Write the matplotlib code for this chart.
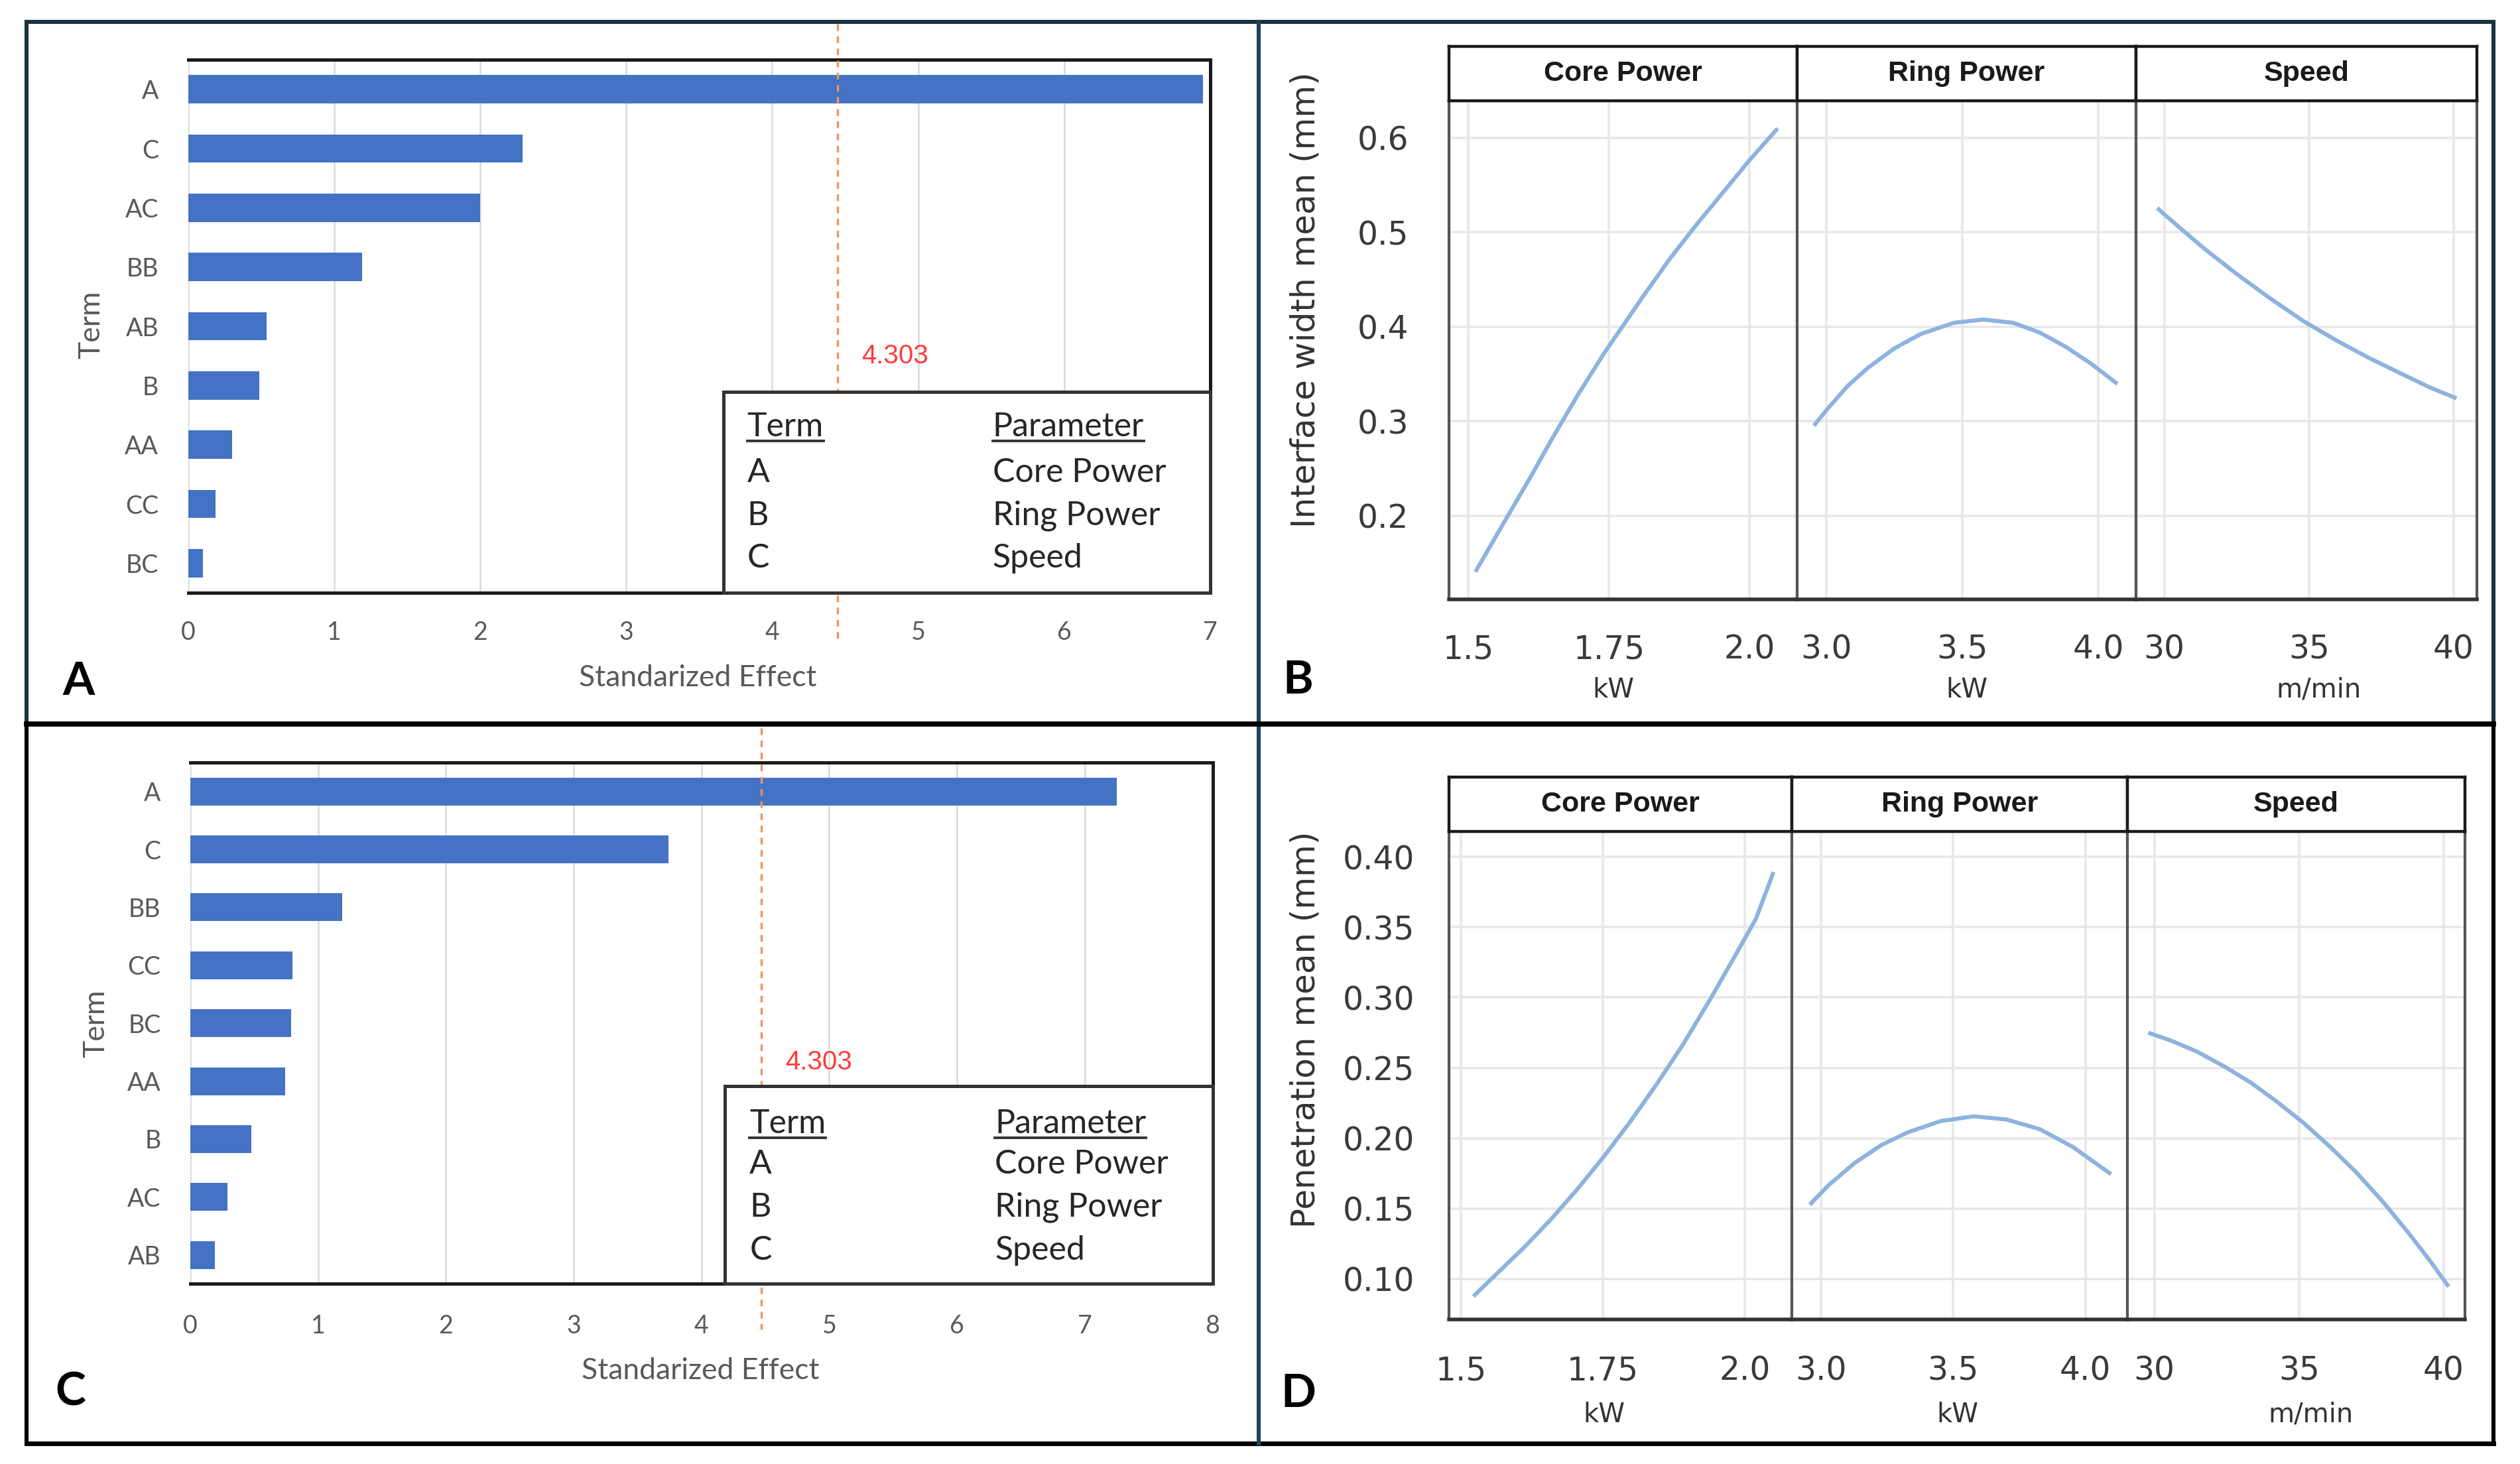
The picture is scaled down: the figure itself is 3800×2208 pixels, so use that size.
import matplotlib
matplotlib.use('Agg')
import matplotlib.pyplot as plt
from matplotlib.patches import Rectangle
from matplotlib.lines import Line2D
import matplotlib.transforms as mtransforms

plt.rcParams['font.family'] = ['Lato', 'DejaVu Sans']

# ------------------------------------------------------------------ data
terms_A = ['A', 'C', 'AC', 'BB', 'AB', 'B', 'AA', 'CC', 'BC']
effects_A = [6.95, 2.29, 2.00, 1.19, 0.54, 0.49, 0.30, 0.19, 0.10]
terms_C = ['A', 'C', 'BB', 'CC', 'BC', 'AA', 'B', 'AC', 'AB']
effects_C = [7.25, 3.74, 1.19, 0.80, 0.79, 0.74, 0.48, 0.29, 0.19]
crit_label = '4.303'
crit_line_A = 4.45
crit_line_C = 4.47
legend_terms = ['A', 'B', 'C']
legend_params = ['Core Power', 'Ring Power', 'Speed']

factors = ['Core Power', 'Ring Power', 'Speed']
units = ['kW', 'kW', 'm/min']
xticks_f = [[1.5, 1.75, 2.0], [3.0, 3.5, 4.0], [30, 35, 40]]
xticklabels_f = [['1.5', '1.75', '2.0'], ['3.0', '3.5', '4.0'], ['30', '35', '40']]

yticks_B = [0.2, 0.3, 0.4, 0.5, 0.6]
yticklabels_B = ['0.2', '0.3', '0.4', '0.5', '0.6']
yticks_D = [0.10, 0.15, 0.20, 0.25, 0.30, 0.35, 0.40]
yticklabels_D = ['0.10', '0.15', '0.20', '0.25', '0.30', '0.35', '0.40']

core_B_x = [1.5125, 1.5653, 1.6122, 1.6474, 1.6943, 1.7412, 1.7765, 1.8116, 1.8585, 1.9054, 1.9524, 1.9993, 2.0498]
core_B_y = [0.1406, 0.1950, 0.2427, 0.2801, 0.3276, 0.3719, 0.4025, 0.4331, 0.4723, 0.5080, 0.5420, 0.5760, 0.6100]
ring_B_x = [2.953, 3.006, 3.079, 3.152, 3.249, 3.346, 3.468, 3.577, 3.687, 3.784, 3.881, 3.978, 4.070]
ring_B_y = [0.2954, 0.3141, 0.3379, 0.3566, 0.3771, 0.3923, 0.4042, 0.4077, 0.4042, 0.3940, 0.3787, 0.3600, 0.3396]
speed_B_x = [29.75, 30.48, 31.39, 32.53, 33.67, 34.81, 35.95, 37.09, 38.23, 39.15, 40.10]
speed_B_y = [0.5257, 0.5062, 0.4825, 0.4552, 0.4298, 0.4060, 0.3855, 0.3668, 0.3498, 0.3362, 0.3243]

core_D_x = [1.522, 1.566, 1.613, 1.659, 1.706, 1.752, 1.799, 1.845, 1.892, 1.938, 1.985, 2.020, 2.051]
core_D_y = [0.0877, 0.1048, 0.1231, 0.1425, 0.1642, 0.1870, 0.2121, 0.2384, 0.2670, 0.2978, 0.3309, 0.3560, 0.3892]
ring_D_x = [2.958, 3.028, 3.128, 3.228, 3.328, 3.453, 3.578, 3.702, 3.827, 3.952, 4.097]
ring_D_y = [0.1528, 0.1665, 0.1825, 0.1951, 0.2042, 0.2122, 0.2156, 0.2133, 0.2065, 0.1939, 0.1745]
speed_D_x = [29.79, 30.59, 31.50, 32.42, 33.33, 34.24, 35.15, 36.07, 36.98, 37.89, 38.80, 39.49, 40.17]
speed_D_y = [0.2750, 0.2693, 0.2613, 0.2510, 0.2396, 0.2259, 0.2110, 0.1940, 0.1757, 0.1551, 0.1323, 0.1140, 0.0946]

# ------------------------------------------------------------------ figure
W, H = 3800, 2208
fig = plt.figure(figsize=(19, 11.04), dpi=200)
fig.patch.set_facecolor('white')


def fx(x):
    return x / W


def fy(y):
    return 1 - y / H


def rect(l, t, r, b):
    return [fx(l), fy(b), fx(r) - fx(l), fy(t) - fy(b)]


underline_targets = []

GRAY_TXT = '#595959'


def pareto(r, terms, effects, xmax, crit_x, lab_x, lab_y, box_x0, box_y1,
           rows_y, xlab_xy, ylab_xy, dash_y, xpad):
    ax = fig.add_axes(r)
    pos = list(range(len(terms)))
    ax.barh(pos, effects, height=0.48, color='#4472C4', zorder=2)
    ax.set_ylim(len(terms) - 0.5, -0.5)
    ax.set_xlim(0, xmax)
    ax.set_xticks(list(range(xmax + 1)))
    ax.set_yticks(pos)
    ax.set_yticklabels(terms)
    ax.grid(axis='x', color='#d9d9d9', lw=0.9, zorder=0)
    ax.set_axisbelow(True)
    for s in ['top', 'bottom', 'right']:
        ax.spines[s].set_color('#1a1a1a')
        ax.spines[s].set_linewidth(1.8)
    ax.spines['left'].set_visible(False)
    ax.tick_params(length=0, labelsize=13.5, labelcolor=GRAY_TXT)
    ax.tick_params(axis='y', pad=16)
    ax.tick_params(axis='x', pad=xpad)
    ax.set_xlabel('Standarized Effect', fontsize=16, color=GRAY_TXT)
    ax.xaxis.set_label_coords(*xlab_xy)
    ax.xaxis.label.set_va('center')
    ax.set_ylabel('Term', fontsize=16, color=GRAY_TXT)
    ax.yaxis.set_label_coords(*ylab_xy)
    ax.yaxis.label.set_va('center')
    # critical value line
    tr = mtransforms.blended_transform_factory(ax.transData, ax.transAxes)
    ax.plot([crit_x, crit_x], dash_y, transform=tr, color='#F0945A', lw=1.2,
            dashes=(3, 2.5), clip_on=False, zorder=3)
    ax.text(lab_x, lab_y, crit_label, transform=tr, color='#FF3B3B',
            fontsize=14.5, family=['Liberation Sans', 'DejaVu Sans'],
            ha='left', va='center', zorder=5)
    # legend table
    ax.add_patch(Rectangle((box_x0, 0), 1 - box_x0, box_y1, transform=ax.transAxes,
                           fc='white', ec='#333333', lw=1.8, zorder=4, clip_on=False))
    kw = dict(transform=ax.transAxes, fontsize=18, color='#262626',
              ha='left', va='center', zorder=5)
    t1 = ax.text(0.547, rows_y[0], 'Term', **kw)
    t2 = ax.text(0.787, rows_y[0], 'Parameter', **kw)
    underline_targets.extend([t1, t2])
    for i in range(3):
        ax.text(0.547, rows_y[i + 1], legend_terms[i], **kw)
        ax.text(0.787, rows_y[i + 1], legend_params[i], **kw)
    return ax


pareto(rect(283.5, 90, 1825, 894), terms_A, effects_A, 7, crit_line_A, 4.61, 0.444,
       0.5236, 0.377, [0.311, 0.2255, 0.144, 0.065], (0.4985, -0.160), (-0.0944, 0.503),
       [1.067, -0.093], 15)
pareto(rect(287, 1150, 1828.5, 1936.4), terms_C, effects_C, 8, crit_line_C, 4.655, 0.425,
       0.523, 0.380, [0.307, 0.2295, 0.147, 0.064], (0.4993, -0.1665), (-0.0919, 0.499),
       [1.066, -0.087], 16.5)

CURVE = '#8DB3DE'
TICK_TXT = '#3a3a3a'


def profiler(facet_x, strip_top, strip_bot, panel_bot, xlims, ylim, yticks, yticklabels,
             xs, ys, ypad, xpad, units_xy, ylabel, ylabel_xy):
    for i in range(3):
        ax = fig.add_axes(rect(facet_x[i], strip_bot, facet_x[i + 1], panel_bot))
        ax.plot(xs[i], ys[i], color=CURVE, lw=2.2, solid_capstyle='butt',
                solid_joinstyle='round', zorder=3)
        ax.set_xlim(*xlims[i])
        ax.set_ylim(*ylim)
        ax.set_xticks(xticks_f[i])
        ax.set_xticklabels(xticklabels_f[i])
        ax.set_yticks(yticks)
        if i == 0:
            ax.set_yticklabels(yticklabels)
        else:
            ax.set_yticklabels([])
        ax.grid(True, color='#e8e8e8', lw=1.3, zorder=0)
        ax.set_axisbelow(True)
        for s in ax.spines.values():
            s.set_color('#555555')
            s.set_linewidth(1.5)
        ax.spines['bottom'].set_color('#333333')
        ax.spines['bottom'].set_linewidth(2.0)
        ax.tick_params(length=0, labelsize=17.5, labelcolor=TICK_TXT)
        ax.tick_params(axis='y', pad=ypad)
        ax.tick_params(axis='x', pad=xpad)
        for lbl in ax.get_xticklabels() + ax.get_yticklabels():
            lbl.set_fontfamily('DejaVu Sans')
        sax = fig.add_axes(rect(facet_x[i], strip_top, facet_x[i + 1], strip_bot))
        sax.set_xticks([])
        sax.set_yticks([])
        sax.set_facecolor('white')
        for s in sax.spines.values():
            s.set_color('#1a1a1a')
            s.set_linewidth(1.6)
        sax.text(0.5, 0.5, factors[i], ha='center', va='center', fontweight='bold',
                 fontsize=15.5, family=['Liberation Sans', 'DejaVu Sans'], color='#1a1a1a')
        fig.text(fx(units_xy[i][0]), fy(units_xy[i][1]), units[i], ha='center', va='center',
                 fontsize=14.5, family='DejaVu Sans', color='#333333')
    fig.text(fx(ylabel_xy[0]), fy(ylabel_xy[1]), ylabel, rotation=90, ha='center', va='center',
             fontsize=18, family='DejaVu Sans', color='#333333')


profiler([2185, 2710, 3221, 3735], 70, 152, 904,
         [(1.4656, 2.0845), (2.8914, 4.1389), (29.021, 40.805)], (0.1115, 0.6392),
         yticks_B, yticklabels_B,
         [core_B_x, ring_B_x, speed_B_x], [core_B_y, ring_B_y, speed_B_y],
         22, 18.4, [(2433, 1040.6), (2966, 1040.6), (3497, 1040.6)],
         'Interface width mean (mm)', (1968, 452))
profiler([2185, 2702, 3208, 3717], 1172, 1253.6, 1990.3,
         [(1.479, 2.0833), (2.890, 4.159), (29.067, 40.736)], (0.0711, 0.4182),
         yticks_D, yticklabels_D,
         [core_D_x, ring_D_x, speed_D_x], [core_D_y, ring_D_y, speed_D_y],
         18.7, 19.0, [(2418.7, 2133.7), (2952, 2133.7), (3485, 2133.7)],
         'Penetration mean (mm)', (1968, 1552.7))

# panel letters
for letter, (x, y) in zip(['A', 'B', 'C', 'D'],
                          [(118.8, 1028), (1957, 1027), (106.6, 2100), (1958, 2103)]):
    fig.text(fx(x), fy(y), letter, ha='center', va='center', fontsize=25,
             fontweight='bold', color='black')

# outer frame and dividers
NAVY = '#1b3140'


def fline(x0, y0, x1, y1, color, lw):
    fig.add_artist(Line2D([fx(x0), fx(x1)], [fy(y0), fy(y1)], transform=fig.transFigure,
                          color=color, lw=lw, solid_capstyle='projecting'))


fline(40, 33, 3760, 33, NAVY, 2.2)
fline(40, 33, 40, 1092, NAVY, 2.2)
fline(40, 1092, 40, 2177, 'black', 2.2)
fline(3760, 33, 3760, 1092, NAVY, 2.2)
fline(3760, 1092, 3760, 2177, 'black', 2.2)
fline(40, 2177, 3760, 2177, 'black', 2.5)
fline(1898, 33, 1898, 2177, '#1f4657', 2.2)
fline(40, 1092, 3760, 1092, 'black', 2.8)

# underline legend headers
fig.canvas.draw()
renderer = fig.canvas.get_renderer()
fw, fh = fig.get_size_inches() * fig.dpi
for t in underline_targets:
    bb = t.get_window_extent(renderer)
    yline = (bb.y0 + 2) / fh
    fig.add_artist(Line2D([bb.x0 / fw, bb.x1 / fw], [yline, yline], transform=fig.transFigure,
                          color='#333333', lw=1.4))

fig.savefig('out.png', dpi=200, facecolor='white')
